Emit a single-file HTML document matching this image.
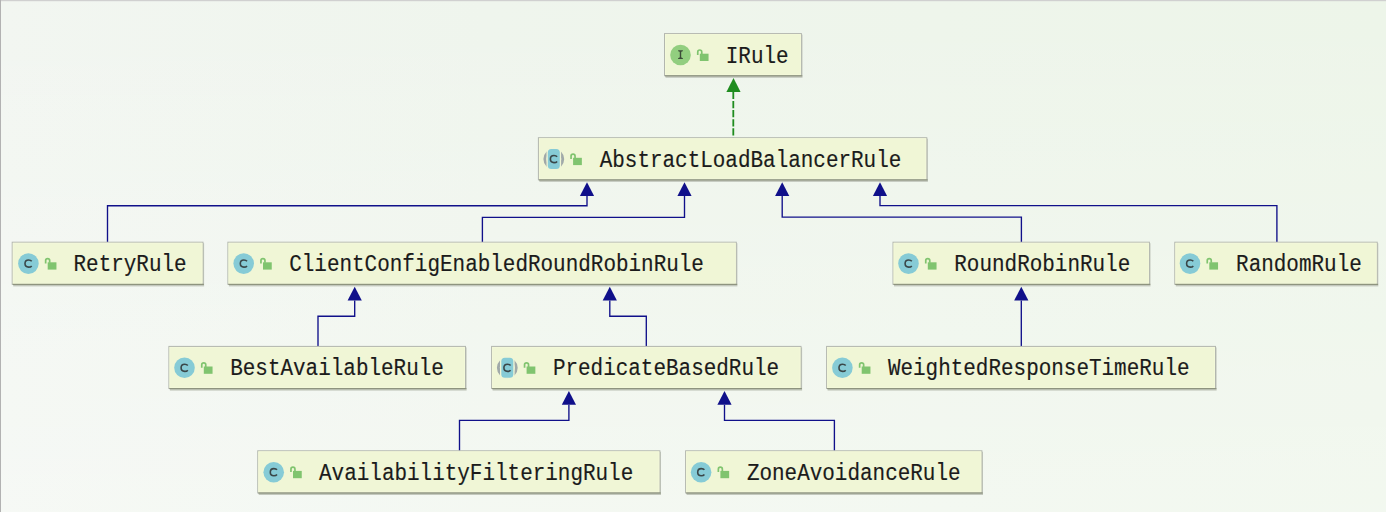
<!DOCTYPE html>
<html><head><meta charset="utf-8"><style>
html,body{margin:0;padding:0;width:1386px;height:512px;overflow:hidden;background:#eff5ee;}
svg{display:block;}
text{font-family:"Liberation Mono",monospace;}
</style></head><body>
<svg width="1386" height="512" viewBox="0 0 1386 512">
<defs>
<linearGradient id="bgx" x1="0" y1="0" x2="1" y2="0">
<stop offset="0" stop-color="#f2f6f1"/><stop offset="0.35" stop-color="#eff5ed"/><stop offset="1" stop-color="#edf5e9"/>
</linearGradient>
<linearGradient id="bgy" x1="0" y1="0" x2="0" y2="1">
<stop offset="0" stop-color="#ffffff" stop-opacity="0"/><stop offset="1" stop-color="#ffffff" stop-opacity="0.3"/>
</linearGradient>
</defs>
<rect width="1386" height="512" fill="url(#bgx)"/>
<rect width="1386" height="512" fill="url(#bgy)"/>
<rect x="0" y="0" width="1386" height="1.2" fill="#d0d0d0"/>
<rect x="0" y="0" width="1" height="512" fill="#b2b2b2"/>

<path d="M107.5,242.2 V205.7 H587 V196" stroke="#10108a" stroke-width="1.35" fill="none"/>
<path d="M587.00,182.20 L594.10,196.00 L579.90,196.00 Z" fill="#10108a"/>
<path d="M482.4,242.2 V217.3 H684.5 V196" stroke="#10108a" stroke-width="1.35" fill="none"/>
<path d="M684.50,182.20 L691.60,196.00 L677.40,196.00 Z" fill="#10108a"/>
<path d="M1021.4,242.2 V217.1 H782.2 V196" stroke="#10108a" stroke-width="1.35" fill="none"/>
<path d="M782.20,182.20 L789.30,196.00 L775.10,196.00 Z" fill="#10108a"/>
<path d="M1276.9,242.2 V205.6 H880 V196" stroke="#10108a" stroke-width="1.35" fill="none"/>
<path d="M880.00,182.20 L887.10,196.00 L872.90,196.00 Z" fill="#10108a"/>
<path d="M318,346.4 V316.2 H354.7 V300.5" stroke="#10108a" stroke-width="1.35" fill="none"/>
<path d="M354.70,286.70 L361.80,300.50 L347.60,300.50 Z" fill="#10108a"/>
<path d="M646.3,346.4 V316.2 H609.8 V300.5" stroke="#10108a" stroke-width="1.35" fill="none"/>
<path d="M609.80,286.70 L616.90,300.50 L602.70,300.50 Z" fill="#10108a"/>
<path d="M1021.3,346.4 V300.5" stroke="#10108a" stroke-width="1.35" fill="none"/>
<path d="M1021.30,286.70 L1028.40,300.50 L1014.20,300.50 Z" fill="#10108a"/>
<path d="M459.5,450.8 V420.3 H568.9 V404.7" stroke="#10108a" stroke-width="1.35" fill="none"/>
<path d="M568.90,390.90 L576.00,404.70 L561.80,404.70 Z" fill="#10108a"/>
<path d="M834.4,450.8 V420.3 H724.5 V404.7" stroke="#10108a" stroke-width="1.35" fill="none"/>
<path d="M724.50,390.90 L731.60,404.70 L717.40,404.70 Z" fill="#10108a"/>
<path d="M733.3,91.90 V137.7" stroke="#1f8c1f" stroke-width="1.8" stroke-dasharray="7.2 1.9" fill="none"/>
<path d="M733.5,78.10 L740.60,91.90 L726.40,91.90 Z" fill="#1f8c1f"/>
<rect x="665.50" y="34.60" width="137.00" height="43.20" fill="#c3c8bd"/>
<rect x="664.50" y="33.60" width="136.90" height="42.10" fill="#f0f6d6" stroke="#b2b6ae" stroke-width="1"/>
<rect x="665.50" y="34.60" width="134.90" height="40.10" fill="none" stroke="#f4f9da" stroke-width="0.8"/>
<rect x="665.00" y="75.20" width="137.30" height="1.2" fill="#8e947f"/>
<circle cx="680.50" cy="55.00" r="10.3" fill="#92ce7f"/><path d="M678.15,50.30 H682.85 V51.30 Q681.30,51.40 681.20,52.30 V57.10 Q681.30,58.00 682.85,58.10 V59.10 H678.15 V58.10 Q679.70,58.00 679.80,57.10 V52.30 Q679.70,51.40 678.15,51.30 Z" fill="#3c4b38"/>
<rect x="699.80" y="53.70" width="8.75" height="7.3" fill="#80c46f"/><path d="M697.75,54.90 V52.00 A2.00,2.00 0 0 1 701.75,52.00 V54.20" stroke="#80c46f" stroke-width="1.7" fill="none"/>
<text x="725.80" y="0" font-size="20.95" fill="#1b1b1b" stroke="#1b1b1b" stroke-width="0.15" transform="translate(0 62.60) scale(1 1.11)">IRule</text>
<rect x="539.40" y="138.70" width="388.50" height="43.20" fill="#c3c8bd"/>
<rect x="538.40" y="137.70" width="388.40" height="42.10" fill="#f0f6d6" stroke="#b2b6ae" stroke-width="1"/>
<rect x="539.40" y="138.70" width="386.40" height="40.10" fill="none" stroke="#f4f9da" stroke-width="0.8"/>
<rect x="538.90" y="179.30" width="388.80" height="1.2" fill="#8e947f"/>
<circle cx="553.80" cy="159.10" r="8.95" fill="none" stroke="#a0a9a9" stroke-width="2.9"/><rect x="546.50" y="148.10" width="14.6" height="22" fill="#f0f6d6"/><rect x="547.80" y="149.10" width="12" height="20" rx="3.5" fill="#86cbd6"/><path d="M557.10,156.75 C556.40,155.85 555.30,155.55 554.00,155.55 C551.80,155.55 550.40,157.10 550.40,159.10 C550.40,161.10 551.80,162.65 554.00,162.65 C555.30,162.65 556.40,162.35 557.10,161.45" stroke="#3a4749" stroke-width="1.6" fill="none"/>
<rect x="573.10" y="157.80" width="8.75" height="7.3" fill="#80c46f"/><path d="M571.05,159.00 V156.10 A2.00,2.00 0 0 1 575.05,156.10 V158.30" stroke="#80c46f" stroke-width="1.7" fill="none"/>
<text x="599.70" y="0" font-size="20.95" fill="#1b1b1b" stroke="#1b1b1b" stroke-width="0.15" transform="translate(0 166.70) scale(1 1.11)">AbstractLoadBalancerRule</text>
<rect x="13.20" y="243.20" width="190.90" height="43.20" fill="#c3c8bd"/>
<rect x="12.20" y="242.20" width="190.80" height="42.10" fill="#f0f6d6" stroke="#b2b6ae" stroke-width="1"/>
<rect x="13.20" y="243.20" width="188.80" height="40.10" fill="none" stroke="#f4f9da" stroke-width="0.8"/>
<rect x="12.70" y="283.80" width="191.20" height="1.2" fill="#8e947f"/>
<circle cx="28.40" cy="263.60" r="10.3" fill="#86cbd6"/><path d="M31.70,261.25 C31.00,260.35 29.90,260.05 28.60,260.05 C26.40,260.05 25.00,261.60 25.00,263.60 C25.00,265.60 26.40,267.15 28.60,267.15 C29.90,267.15 31.00,266.85 31.70,265.95" stroke="#3a4749" stroke-width="1.6" fill="none"/>
<rect x="47.70" y="262.30" width="8.75" height="7.3" fill="#80c46f"/><path d="M45.65,263.50 V260.60 A2.00,2.00 0 0 1 49.65,260.60 V262.80" stroke="#80c46f" stroke-width="1.7" fill="none"/>
<text x="73.50" y="0" font-size="20.95" fill="#1b1b1b" stroke="#1b1b1b" stroke-width="0.15" transform="translate(0 271.20) scale(1 1.11)">RetryRule</text>
<rect x="228.90" y="243.20" width="508.50" height="43.20" fill="#c3c8bd"/>
<rect x="227.90" y="242.20" width="508.40" height="42.10" fill="#f0f6d6" stroke="#b2b6ae" stroke-width="1"/>
<rect x="228.90" y="243.20" width="506.40" height="40.10" fill="none" stroke="#f4f9da" stroke-width="0.8"/>
<rect x="228.40" y="283.80" width="508.80" height="1.2" fill="#8e947f"/>
<circle cx="243.70" cy="263.60" r="10.3" fill="#86cbd6"/><path d="M247.00,261.25 C246.30,260.35 245.20,260.05 243.90,260.05 C241.70,260.05 240.30,261.60 240.30,263.60 C240.30,265.60 241.70,267.15 243.90,267.15 C245.20,267.15 246.30,266.85 247.00,265.95" stroke="#3a4749" stroke-width="1.6" fill="none"/>
<rect x="263.00" y="262.30" width="8.75" height="7.3" fill="#80c46f"/><path d="M260.95,263.50 V260.60 A2.00,2.00 0 0 1 264.95,260.60 V262.80" stroke="#80c46f" stroke-width="1.7" fill="none"/>
<text x="289.20" y="0" font-size="20.95" fill="#1b1b1b" stroke="#1b1b1b" stroke-width="0.15" transform="translate(0 271.20) scale(1 1.11)">ClientConfigEnabledRoundRobinRule</text>
<rect x="894.00" y="243.20" width="256.50" height="43.20" fill="#c3c8bd"/>
<rect x="893.00" y="242.20" width="256.40" height="42.10" fill="#f0f6d6" stroke="#b2b6ae" stroke-width="1"/>
<rect x="894.00" y="243.20" width="254.40" height="40.10" fill="none" stroke="#f4f9da" stroke-width="0.8"/>
<rect x="893.50" y="283.80" width="256.80" height="1.2" fill="#8e947f"/>
<circle cx="908.50" cy="263.60" r="10.3" fill="#86cbd6"/><path d="M911.80,261.25 C911.10,260.35 910.00,260.05 908.70,260.05 C906.50,260.05 905.10,261.60 905.10,263.60 C905.10,265.60 906.50,267.15 908.70,267.15 C910.00,267.15 911.10,266.85 911.80,265.95" stroke="#3a4749" stroke-width="1.6" fill="none"/>
<rect x="927.80" y="262.30" width="8.75" height="7.3" fill="#80c46f"/><path d="M925.75,263.50 V260.60 A2.00,2.00 0 0 1 929.75,260.60 V262.80" stroke="#80c46f" stroke-width="1.7" fill="none"/>
<text x="954.30" y="0" font-size="20.95" fill="#1b1b1b" stroke="#1b1b1b" stroke-width="0.15" transform="translate(0 271.20) scale(1 1.11)">RoundRobinRule</text>
<rect x="1175.80" y="243.20" width="202.50" height="43.20" fill="#c3c8bd"/>
<rect x="1174.80" y="242.20" width="202.40" height="42.10" fill="#f0f6d6" stroke="#b2b6ae" stroke-width="1"/>
<rect x="1175.80" y="243.20" width="200.40" height="40.10" fill="none" stroke="#f4f9da" stroke-width="0.8"/>
<rect x="1175.30" y="283.80" width="202.80" height="1.2" fill="#8e947f"/>
<circle cx="1190.00" cy="263.60" r="10.3" fill="#86cbd6"/><path d="M1193.30,261.25 C1192.60,260.35 1191.50,260.05 1190.20,260.05 C1188.00,260.05 1186.60,261.60 1186.60,263.60 C1186.60,265.60 1188.00,267.15 1190.20,267.15 C1191.50,267.15 1192.60,266.85 1193.30,265.95" stroke="#3a4749" stroke-width="1.6" fill="none"/>
<rect x="1209.30" y="262.30" width="8.75" height="7.3" fill="#80c46f"/><path d="M1207.25,263.50 V260.60 A2.00,2.00 0 0 1 1211.25,260.60 V262.80" stroke="#80c46f" stroke-width="1.7" fill="none"/>
<text x="1236.10" y="0" font-size="20.95" fill="#1b1b1b" stroke="#1b1b1b" stroke-width="0.15" transform="translate(0 271.20) scale(1 1.11)">RandomRule</text>
<rect x="169.90" y="347.40" width="296.70" height="43.20" fill="#c3c8bd"/>
<rect x="168.90" y="346.40" width="296.60" height="42.10" fill="#f0f6d6" stroke="#b2b6ae" stroke-width="1"/>
<rect x="169.90" y="347.40" width="294.60" height="40.10" fill="none" stroke="#f4f9da" stroke-width="0.8"/>
<rect x="169.40" y="388.00" width="297.00" height="1.2" fill="#8e947f"/>
<circle cx="184.50" cy="367.80" r="10.3" fill="#86cbd6"/><path d="M187.80,365.45 C187.10,364.55 186.00,364.25 184.70,364.25 C182.50,364.25 181.10,365.80 181.10,367.80 C181.10,369.80 182.50,371.35 184.70,371.35 C186.00,371.35 187.10,371.05 187.80,370.15" stroke="#3a4749" stroke-width="1.6" fill="none"/>
<rect x="203.80" y="366.50" width="8.75" height="7.3" fill="#80c46f"/><path d="M201.75,367.70 V364.80 A2.00,2.00 0 0 1 205.75,364.80 V367.00" stroke="#80c46f" stroke-width="1.7" fill="none"/>
<text x="230.20" y="0" font-size="20.95" fill="#1b1b1b" stroke="#1b1b1b" stroke-width="0.15" transform="translate(0 375.40) scale(1 1.11)">BestAvailableRule</text>
<rect x="492.60" y="347.40" width="309.50" height="43.20" fill="#c3c8bd"/>
<rect x="491.60" y="346.40" width="309.40" height="42.10" fill="#f0f6d6" stroke="#b2b6ae" stroke-width="1"/>
<rect x="492.60" y="347.40" width="307.40" height="40.10" fill="none" stroke="#f4f9da" stroke-width="0.8"/>
<rect x="492.10" y="388.00" width="309.80" height="1.2" fill="#8e947f"/>
<circle cx="507.30" cy="367.80" r="8.95" fill="none" stroke="#a0a9a9" stroke-width="2.9"/><rect x="500.00" y="356.80" width="14.6" height="22" fill="#f0f6d6"/><rect x="501.30" y="357.80" width="12" height="20" rx="3.5" fill="#86cbd6"/><path d="M510.60,365.45 C509.90,364.55 508.80,364.25 507.50,364.25 C505.30,364.25 503.90,365.80 503.90,367.80 C503.90,369.80 505.30,371.35 507.50,371.35 C508.80,371.35 509.90,371.05 510.60,370.15" stroke="#3a4749" stroke-width="1.6" fill="none"/>
<rect x="526.60" y="366.50" width="8.75" height="7.3" fill="#80c46f"/><path d="M524.55,367.70 V364.80 A2.00,2.00 0 0 1 528.55,364.80 V367.00" stroke="#80c46f" stroke-width="1.7" fill="none"/>
<text x="552.90" y="0" font-size="20.95" fill="#1b1b1b" stroke="#1b1b1b" stroke-width="0.15" transform="translate(0 375.40) scale(1 1.11)">PredicateBasedRule</text>
<rect x="827.60" y="347.40" width="389.00" height="43.20" fill="#c3c8bd"/>
<rect x="826.60" y="346.40" width="388.90" height="42.10" fill="#f0f6d6" stroke="#b2b6ae" stroke-width="1"/>
<rect x="827.60" y="347.40" width="386.90" height="40.10" fill="none" stroke="#f4f9da" stroke-width="0.8"/>
<rect x="827.10" y="388.00" width="389.30" height="1.2" fill="#8e947f"/>
<circle cx="842.40" cy="367.80" r="10.3" fill="#86cbd6"/><path d="M845.70,365.45 C845.00,364.55 843.90,364.25 842.60,364.25 C840.40,364.25 839.00,365.80 839.00,367.80 C839.00,369.80 840.40,371.35 842.60,371.35 C843.90,371.35 845.00,371.05 845.70,370.15" stroke="#3a4749" stroke-width="1.6" fill="none"/>
<rect x="861.70" y="366.50" width="8.75" height="7.3" fill="#80c46f"/><path d="M859.65,367.70 V364.80 A2.00,2.00 0 0 1 863.65,364.80 V367.00" stroke="#80c46f" stroke-width="1.7" fill="none"/>
<text x="887.90" y="0" font-size="20.95" fill="#1b1b1b" stroke="#1b1b1b" stroke-width="0.15" transform="translate(0 375.40) scale(1 1.11)">WeightedResponseTimeRule</text>
<rect x="258.75" y="451.80" width="402.25" height="43.20" fill="#c3c8bd"/>
<rect x="257.75" y="450.80" width="402.15" height="42.10" fill="#f0f6d6" stroke="#b2b6ae" stroke-width="1"/>
<rect x="258.75" y="451.80" width="400.15" height="40.10" fill="none" stroke="#f4f9da" stroke-width="0.8"/>
<rect x="258.25" y="492.40" width="402.55" height="1.2" fill="#8e947f"/>
<circle cx="273.70" cy="472.20" r="10.3" fill="#86cbd6"/><path d="M277.00,469.85 C276.30,468.95 275.20,468.65 273.90,468.65 C271.70,468.65 270.30,470.20 270.30,472.20 C270.30,474.20 271.70,475.75 273.90,475.75 C275.20,475.75 276.30,475.45 277.00,474.55" stroke="#3a4749" stroke-width="1.6" fill="none"/>
<rect x="293.00" y="470.90" width="8.75" height="7.3" fill="#80c46f"/><path d="M290.95,472.10 V469.20 A2.00,2.00 0 0 1 294.95,469.20 V471.40" stroke="#80c46f" stroke-width="1.7" fill="none"/>
<text x="319.05" y="0" font-size="20.95" fill="#1b1b1b" stroke="#1b1b1b" stroke-width="0.15" transform="translate(0 479.80) scale(1 1.11)">AvailabilityFilteringRule</text>
<rect x="686.60" y="451.80" width="296.40" height="43.20" fill="#c3c8bd"/>
<rect x="685.60" y="450.80" width="296.30" height="42.10" fill="#f0f6d6" stroke="#b2b6ae" stroke-width="1"/>
<rect x="686.60" y="451.80" width="294.30" height="40.10" fill="none" stroke="#f4f9da" stroke-width="0.8"/>
<rect x="686.10" y="492.40" width="296.70" height="1.2" fill="#8e947f"/>
<circle cx="701.10" cy="472.20" r="10.3" fill="#86cbd6"/><path d="M704.40,469.85 C703.70,468.95 702.60,468.65 701.30,468.65 C699.10,468.65 697.70,470.20 697.70,472.20 C697.70,474.20 699.10,475.75 701.30,475.75 C702.60,475.75 703.70,475.45 704.40,474.55" stroke="#3a4749" stroke-width="1.6" fill="none"/>
<rect x="720.40" y="470.90" width="8.75" height="7.3" fill="#80c46f"/><path d="M718.35,472.10 V469.20 A2.00,2.00 0 0 1 722.35,469.20 V471.40" stroke="#80c46f" stroke-width="1.7" fill="none"/>
<text x="746.90" y="0" font-size="20.95" fill="#1b1b1b" stroke="#1b1b1b" stroke-width="0.15" transform="translate(0 479.80) scale(1 1.11)">ZoneAvoidanceRule</text>
</svg></body></html>
